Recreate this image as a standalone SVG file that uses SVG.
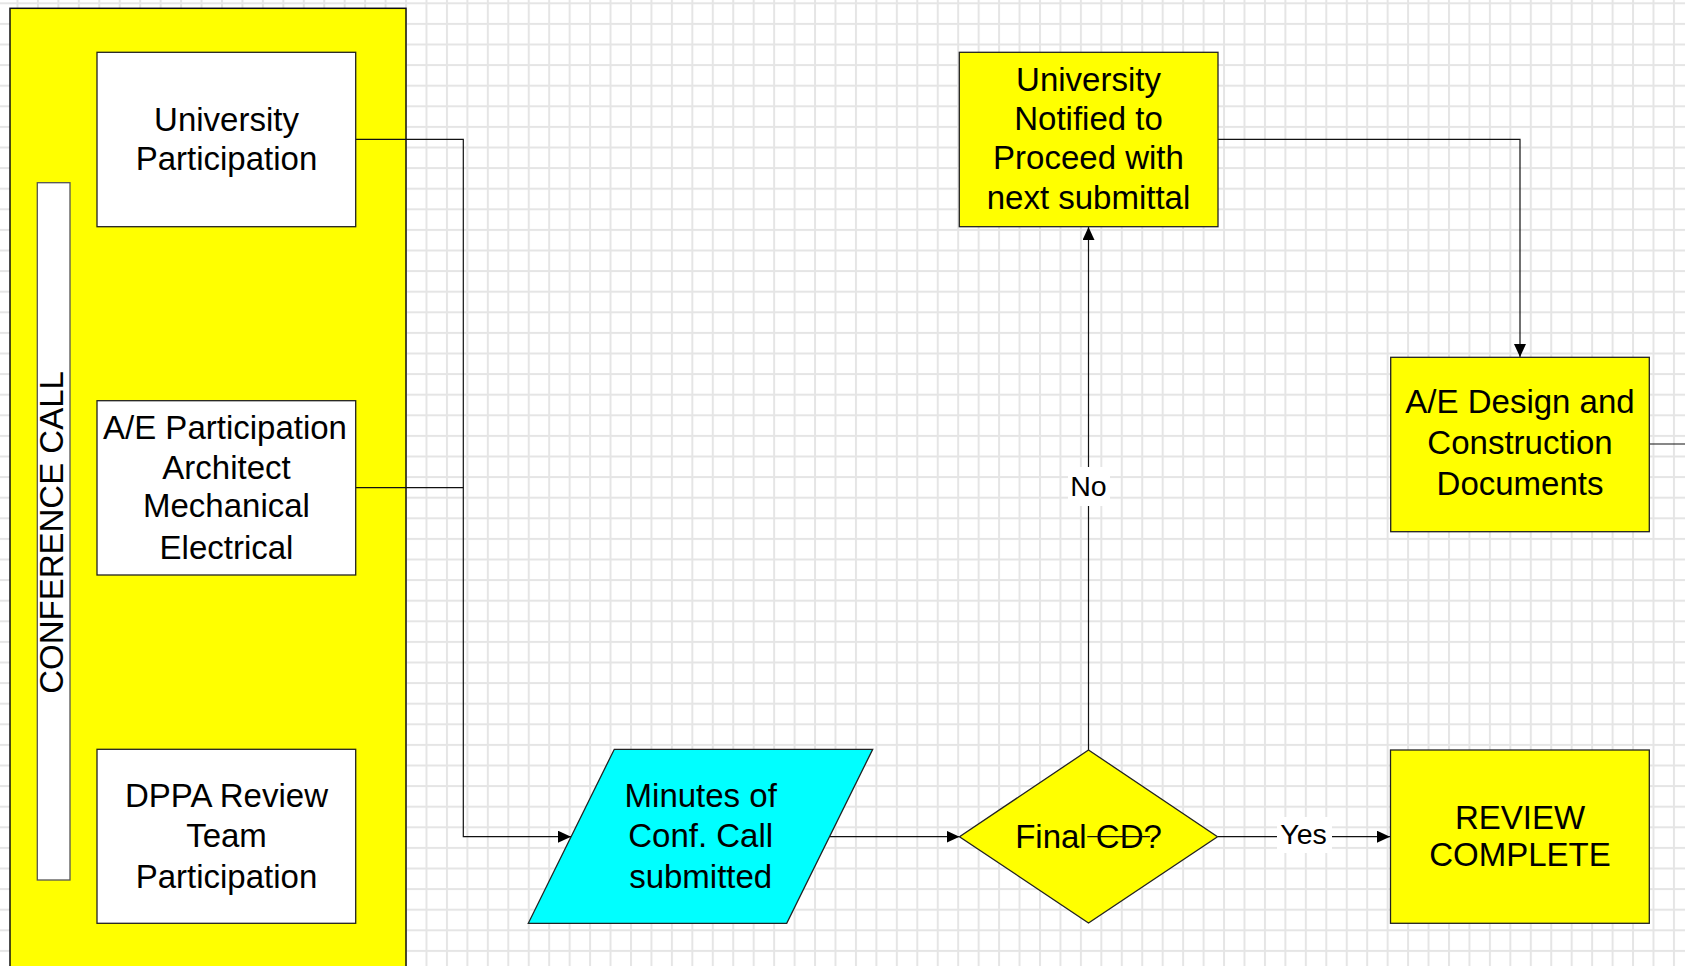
<svg xmlns="http://www.w3.org/2000/svg" width="1685" height="966" viewBox="0 0 1685 966">
<defs>
<pattern id="grid" patternUnits="userSpaceOnUse" x="16.5" y="2.3" width="20.45" height="20.6">
<rect x="0" y="0" width="2" height="20.6" fill="#e5e5e5"/>
<rect x="0" y="0" width="20.45" height="2" fill="#e5e5e5"/>
</pattern>
<marker id="arr" markerUnits="userSpaceOnUse" markerWidth="13" markerHeight="12" refX="13" refY="6" orient="auto">
<path d="M0,0 L13,6 L0,12 Z" fill="#000"/>
</marker>
<style>
.box{stroke:#222;stroke-width:1.3}
.w{fill:#ffffff}
.y{fill:#ffff00}
.c{fill:#00ffff}
.t{font-family:"Liberation Sans",Arial,sans-serif;font-size:33px;fill:#000;text-anchor:middle}
.lbl{font-family:"Liberation Sans",Arial,sans-serif;font-size:28.5px;fill:#000;text-anchor:middle}
.ln{fill:none;stroke:#111;stroke-width:1.2}
</style>
</defs>
<rect x="0" y="0" width="1685" height="966" fill="#ffffff"/>
<rect x="0" y="0" width="1685" height="966" fill="url(#grid)"/>

<g id="panel">
<rect x="10" y="8.3" width="396" height="975" class="y" stroke="#111" stroke-width="1.5"/>
</g>
<g id="conference-call">
<rect x="37.3" y="182.7" width="32.7" height="697.3" class="w" stroke="#555" stroke-width="1.3"/>
<text class="t" transform="translate(63.3,532.5) rotate(-90)" x="0" y="0">CONFERENCE CALL</text>
</g>

<g id="connectors">
<polyline class="ln" points="356,139.3 463.3,139.3 463.3,836.7 571,836.7" marker-end="url(#arr)"/>
<polyline class="ln" points="356,487.7 463.3,487.7"/>
<polyline class="ln" points="830,836.7 959.5,836.7" marker-end="url(#arr)"/>
<polyline class="ln" points="1088.5,750 1088.5,227" marker-end="url(#arr)"/>
<polyline class="ln" points="1218,139.3 1520,139.3 1520,357" marker-end="url(#arr)"/>
<polyline class="ln" points="1218,836.7 1390,836.7" marker-end="url(#arr)"/>
<polyline class="ln" points="1649.5,444 1685,444"/>
</g>

<g id="university-participation">
<rect x="97" y="52.3" width="258.7" height="174.4" class="box w"/>
<text class="t" x="226.5" y="130.5">University</text>
<text class="t" x="226.5" y="169.5">Participation</text>
</g>
<g id="ae-participation">
<rect x="97" y="400.7" width="258.7" height="174.3" class="box w"/>
<text class="t" x="225" y="438.5">A/E Participation</text>
<text class="t" x="226.5" y="479">Architect</text>
<text class="t" x="226.5" y="517">Mechanical</text>
<text class="t" x="226.5" y="558.5">Electrical</text>
</g>
<g id="dppa">
<rect x="97" y="749.3" width="258.7" height="174" class="box w"/>
<text class="t" x="226.5" y="806.5">DPPA Review</text>
<text class="t" x="226.5" y="847">Team</text>
<text class="t" x="226.5" y="888">Participation</text>
</g>
<g id="minutes">
<polygon points="614.3,749.3 872.7,749.3 786.7,923.3 528.3,923.3" class="box c"/>
<text class="t" x="700.7" y="806.5">Minutes of</text>
<text class="t" x="700.7" y="847">Conf. Call</text>
<text class="t" x="700.7" y="887.5">submitted</text>
</g>
<g id="final-cd">
<polygon points="1088.5,750 1217.5,836.7 1088.5,923 959.5,836.7" class="box y"/>
<text class="t" x="1088.5" y="847.5">Final CD?</text>
<line class="ln" x1="1087.3" y1="836.7" x2="1150" y2="836.7"/>
</g>
<g id="notified">
<rect x="959.3" y="52.3" width="258.7" height="174.4" class="box y"/>
<text class="t" x="1088.5" y="90.5">University</text>
<text class="t" x="1088.5" y="129.5">Notified to</text>
<text class="t" x="1088.5" y="168.5">Proceed with</text>
<text class="t" x="1088.5" y="208.5">next submittal</text>
</g>
<g id="ae-design">
<rect x="1390.7" y="357.3" width="258.6" height="174.4" class="box y"/>
<text class="t" x="1520" y="412.5">A/E Design and</text>
<text class="t" x="1520" y="453.5">Construction</text>
<text class="t" x="1520" y="495">Documents</text>
</g>
<g id="review-complete">
<rect x="1390.5" y="750" width="258.8" height="173.3" class="box y"/>
<text class="t" x="1520" y="828.5">REVIEW</text>
<text class="t" x="1520" y="866">COMPLETE</text>
</g>
<g id="labels">
<rect x="1068" y="467" width="42" height="39" fill="#ffffff"/>
<text class="lbl" x="1088.5" y="496">No</text>
<rect x="1277" y="817" width="55" height="36" fill="#ffffff"/>
<text class="lbl" x="1303.5" y="843.5">Yes</text>
</g>
</svg>
